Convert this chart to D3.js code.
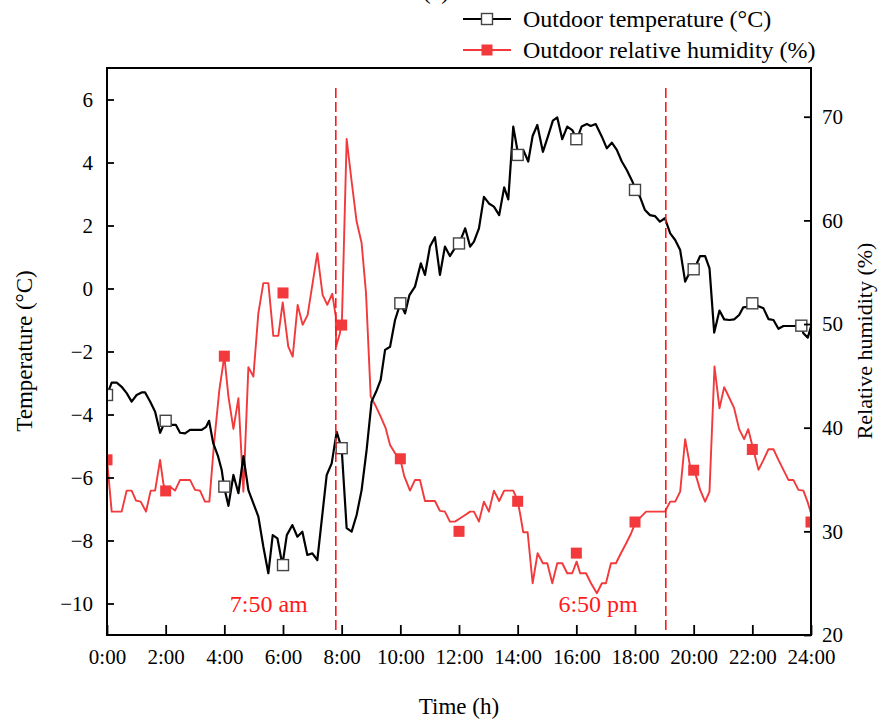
<!DOCTYPE html>
<html><head><meta charset="utf-8">
<script src="https://cdn.jsdelivr.net/npm/d3@7"></script>
<style>
body{margin:0;background:#fff;}
svg{display:block;font-family:"Liberation Serif","Times New Roman",serif;}
</style>
</head><body>
<svg id="c" width="890" height="723"></svg>
<script>
// ---- data (time in hours) ----
const tempTime=[0,0.16,0.33,0.50,0.67,0.84,1.01,1.18,1.30,1.47,1.64,1.81,1.90,2.00,2.21,2.35,2.49,2.66,2.83,3.06,3.23,3.38,3.48,3.62,3.79,3.91,3.99,4.14,4.31,4.48,4.65,4.82,4.99,5.16,5.33,5.50,5.65,5.81,5.98,6.13,6.32,6.49,6.66,6.83,7.00,7.17,7.49,7.66,7.83,8.00,8.17,8.34,8.51,8.68,8.85,9.02,9.20,9.33,9.48,9.65,9.82,10.00,10.16,10.31,10.50,10.70,10.84,11.01,11.18,11.35,11.52,11.69,11.86,12.01,12.21,12.38,12.51,12.68,12.85,13.02,13.19,13.37,13.54,13.68,13.85,14.02,14.19,14.36,14.51,14.67,14.86,15.03,15.20,15.35,15.52,15.69,15.86,16.02,16.18,16.36,16.49,16.66,16.87,17.04,17.21,17.38,17.55,17.72,17.89,18.03,18.17,18.34,18.51,18.68,18.85,19.02,19.20,19.37,19.54,19.71,19.85,20.02,20.22,20.39,20.54,20.70,20.88,21.04,21.22,21.38,21.55,21.69,21.86,22.03,22.21,22.38,22.55,22.72,22.89,23.06,23.23,23.40,23.66,23.74,23.89,24.00];
const tempVal=[-3.38,-2.99,-2.99,-3.12,-3.32,-3.59,-3.38,-3.30,-3.30,-3.59,-3.91,-4.58,-4.39,-4.20,-4.33,-4.33,-4.58,-4.60,-4.49,-4.49,-4.49,-4.39,-4.20,-4.91,-5.34,-5.76,-6.29,-6.90,-5.92,-6.50,-5.32,-6.40,-6.82,-7.24,-8.20,-9.04,-7.83,-7.93,-8.78,-7.83,-7.51,-7.88,-7.72,-8.46,-8.41,-8.62,-5.92,-5.55,-4.55,-5.07,-7.61,-7.72,-7.19,-6.40,-5.13,-3.59,-3.22,-2.90,-1.95,-1.85,-1.00,-0.47,-0.79,-0.21,0.06,0.80,0.43,1.33,1.63,0.43,1.33,1.03,1.28,1.43,1.91,1.33,1.49,1.91,2.91,2.70,2.60,2.33,3.21,2.83,5.14,4.24,4.40,4.03,4.84,5.19,4.34,4.82,5.33,5.43,4.74,5.14,5.03,4.74,5.14,5.22,5.16,5.22,4.82,4.45,4.63,4.40,4.03,3.76,3.44,3.13,2.91,2.49,2.33,2.30,2.12,2.23,1.75,1.54,1.22,0.22,0.48,0.61,1.03,1.03,0.64,-1.40,-0.70,-0.98,-1.00,-0.98,-0.84,-0.60,-0.58,-0.47,-0.56,-0.63,-0.97,-1.00,-1.28,-1.19,-1.19,-1.19,-1.18,-1.42,-1.56,-1.21];
const humTime=[0,0.16,0.50,0.67,0.84,0.99,1.15,1.33,1.49,1.64,1.81,1.92,1.99,2.15,2.32,2.49,2.66,2.83,3.00,3.17,3.34,3.49,3.65,3.83,4.00,4.14,4.31,4.48,4.65,4.82,4.99,5.16,5.33,5.50,5.67,5.84,5.99,6.18,6.33,6.50,6.67,6.84,7.01,7.17,7.35,7.51,7.68,7.80,7.81,7.94,8.01,8.17,8.34,8.51,8.68,8.83,8.99,9.17,9.33,9.50,9.65,9.82,10.00,10.13,10.33,10.50,10.67,10.84,11.01,11.18,11.35,11.52,11.69,11.86,12.04,12.21,12.38,12.51,12.68,12.85,13.02,13.19,13.37,13.54,13.68,13.85,14.00,14.08,14.19,14.34,14.51,14.68,14.86,15.01,15.18,15.35,15.52,15.69,15.86,16.01,16.13,16.33,16.50,16.70,16.87,17.01,17.18,17.35,17.52,17.70,17.87,18.03,18.21,18.38,18.55,18.72,18.89,19.02,19.20,19.37,19.54,19.71,19.88,20.02,20.22,20.39,20.54,20.71,20.88,21.04,21.21,21.38,21.55,21.72,21.86,22.03,22.21,22.38,22.55,22.72,22.89,23.06,23.23,23.40,23.57,23.74,23.88,24.00];
const humVal=[36.9,31.9,31.9,33.93,33.93,32.96,32.87,31.9,33.93,33.93,36.89,34.64,33.9,34.31,33.93,34.96,34.96,34.96,34.0,33.93,32.87,32.87,38.5,43.65,46.9,43.0,39.88,42.85,33.83,45.84,44.93,51.05,53.95,53.95,48.86,48.86,52.08,47.83,46.86,51.85,49.92,50.89,53.95,56.84,52.82,51.85,52.92,50.72,47.83,49.12,50.41,67.85,63.75,59.89,57.81,52.98,43.0,42.04,41.07,39.95,38.34,37.54,36.96,35.35,33.93,34.96,34.96,32.93,32.93,32.93,31.97,31.9,30.94,30.94,31.26,31.58,31.9,31.9,30.94,32.87,31.9,33.93,32.93,33.93,33.93,33.93,32.93,31.75,29.91,29.91,24.99,27.89,26.92,26.92,24.99,26.92,26.92,25.96,25.96,27.08,25.96,25.96,24.99,24.03,24.99,24.99,26.92,26.92,27.89,28.85,29.82,30.94,31.42,31.9,31.9,31.9,31.9,31.9,32.87,32.87,33.83,38.89,36.25,35.93,34.0,32.87,33.83,45.9,41.88,43.91,42.91,41.88,39.86,38.89,39.86,37.92,35.93,36.89,37.92,37.92,36.89,35.93,34.96,34.96,34.0,33.93,32.87,31.75];
const tempMarkTime=[0,2,4,6,8,10,12,14,16,18,20,22,23.67];
const tempMarkVal=[-3.38,-4.20,-6.29,-8.78,-5.07,-0.47,1.43,4.24,4.74,3.13,0.61,-0.47,-1.18];
const humMarkTime=[0,2,4,6,8,10,12,14,16,18,20,22,24];
const humMarkVal=[36.9,33.9,46.9,53.0,49.9,37.0,30.0,32.9,27.9,30.9,35.9,37.9,30.9];
const xTicks=[0,2,4,6,8,10,12,14,16,18,20,22,24];
const xTickLabels=["0:00","2:00","4:00","6:00","8:00","10:00","12:00","14:00","16:00","18:00","20:00","22:00","24:00"];
const tempTicks=[-10,-8,-6,-4,-2,0,2,4,6];
const humTicks=[20,30,40,50,60,70];
const eventTimes=[7.8,19.05];
const eventLabels=["7:50 am","6:50 pm"];
const seriesNames=["Outdoor temperature (\u00B0C)","Outdoor relative humidity (%)"];

// ---- layout ----
const L=107,R=811,T=68,B=635;
const RED="#f2393b";
const svg=d3.select("#c");
const x=d3.scaleLinear().domain([0,24]).range([L,R]);
const yT=d3.scaleLinear().domain([-11,7]).range([B,T]);
const yH=d3.scaleLinear().domain([20,74.7]).range([B,T]);

svg.append("rect").attr("width",890).attr("height",723).attr("fill","#fff");

svg.append("defs").append("clipPath").attr("id","clip")
  .append("rect").attr("x",L).attr("y",T).attr("width",R-L).attr("height",B-T);

const plot=svg.append("g").attr("clip-path","url(#clip)");

const tempData=tempTime.map((t,i)=>[t,tempVal[i]]);
const humData=humTime.map((t,i)=>[t,humVal[i]]);

plot.append("path").datum(humData)
  .attr("fill","none").attr("stroke",RED).attr("stroke-width",1.9).attr("stroke-linejoin","round")
  .attr("d",d3.line().x(d=>x(d[0])).y(d=>yH(d[1])));
plot.append("path").datum(tempData)
  .attr("fill","none").attr("stroke","#000").attr("stroke-width",2.2).attr("stroke-linejoin","round")
  .attr("d",d3.line().x(d=>x(d[0])).y(d=>yT(d[1])));

// markers
const ms=11;
plot.selectAll(".hm").data(humMarkTime.map((t,i)=>[t,humMarkVal[i]])).join("rect")
  .attr("x",d=>x(d[0])-ms/2).attr("y",d=>yH(d[1])-ms/2).attr("width",ms).attr("height",ms)
  .attr("fill",RED);
plot.selectAll(".tm").data(tempMarkTime.map((t,i)=>[t,tempMarkVal[i]])).join("rect")
  .attr("x",d=>x(d[0])-5.5).attr("y",d=>yT(d[1])-5.5).attr("width",11).attr("height",11)
  .attr("fill","#fff").attr("stroke","#444").attr("stroke-width",1.4);

// event lines
const ev=svg.append("g");
ev.selectAll("line").data(eventTimes).join("line")
  .attr("x1",d=>x(d)).attr("x2",d=>x(d)).attr("y1",88).attr("y2",B-4)
  .attr("stroke","#ff1a1a").attr("stroke-width",1.6).attr("stroke-dasharray","10,4");
ev.selectAll("text").data(eventTimes).join("text")
  .attr("x",d=>x(d)-28).attr("y",612).attr("text-anchor","end")
  .attr("fill","#ff1a1a").attr("font-size",24)
  .text((d,i)=>eventLabels[i]);

// axes
const fmt=d=>(d<0?"\u2212":"")+Math.abs(d);
const axL=svg.append("g").attr("transform",`translate(${L},0)`)
  .call(d3.axisLeft(yT).tickValues(tempTicks).tickFormat(fmt).tickSizeInner(-7).tickSizeOuter(0).tickPadding(14));
const axR=svg.append("g").attr("transform",`translate(${R},0)`)
  .call(d3.axisRight(yH).tickValues(humTicks).tickSizeInner(-7).tickSizeOuter(0).tickPadding(11));
const axB=svg.append("g").attr("transform",`translate(0,${B})`)
  .call(d3.axisBottom(x).tickValues(xTicks).tickFormat((d,i)=>xTickLabels[i]).tickSizeInner(-10).tickSizeOuter(0).tickPadding(14));
[axL,axR,axB].forEach(a=>{
  a.selectAll("path.domain").remove();
  a.selectAll(".tick line").attr("stroke","#000").attr("stroke-width",1.8);
  a.selectAll("text").attr("font-size",21).attr("fill","#000").attr("font-family","Liberation Serif");
});
// frame
svg.append("rect").attr("x",L).attr("y",T).attr("width",R-L).attr("height",B-T)
  .attr("fill","none").attr("stroke","#000").attr("stroke-width",2);

// axis titles
svg.append("text").attr("x",459).attr("y",714).attr("text-anchor","middle").attr("font-size",23).text("Time (h)");
svg.append("text").attr("transform","translate(32,351) rotate(-90)").attr("text-anchor","middle").attr("font-size",23).text("Temperature (\u00B0C)");
svg.append("text").attr("transform","translate(872,341) rotate(-90)").attr("text-anchor","middle").attr("font-size",22).text("Relative humidity (%)");

// title (cut at top, as in the reference)
svg.append("text").attr("x",436).attr("y",-1).attr("text-anchor","middle").attr("font-size",24).text("(a)");

// legend
const lg=svg.append("g");
const lgColors=["#000",RED];
seriesNames.forEach((n,i)=>{
  const yy=19+i*31;
  lg.append("line").attr("x1",463).attr("x2",511).attr("y1",yy).attr("y2",yy)
    .attr("stroke",lgColors[i]).attr("stroke-width",i?1.9:2.2);
  if(i===0){
    lg.append("rect").attr("x",487-5.5).attr("y",yy-5.5).attr("width",11).attr("height",11)
      .attr("fill","#fff").attr("stroke","#444").attr("stroke-width",1.4);
  } else {
    lg.append("rect").attr("x",487-5.5).attr("y",yy-5.5).attr("width",11).attr("height",11).attr("fill",RED);
  }
  lg.append("text").attr("x",523).attr("y",yy+8).attr("font-size",24).text(n);
});
</script>
</body></html>
